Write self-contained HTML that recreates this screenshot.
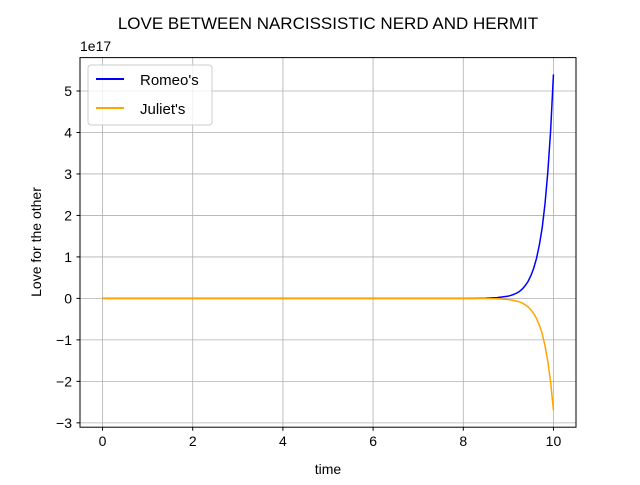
<!DOCTYPE html>
<html><head><meta charset="utf-8"><style>
body{margin:0;background:#fff}
svg text{font-family:"Comic Sans MS","Liberation Sans",sans-serif;fill:#000}
</style></head><body>
<svg id="chart" width="640" height="480" xmlns="http://www.w3.org/2000/svg">
<rect width="640" height="480" fill="#fff"/>
<g id="grid"></g>
<g id="lines"></g>
<rect x="80" y="57.6" width="496" height="369.6" fill="none" stroke="#000" stroke-width="1"/>
<g id="ticks"></g>
<text x="328" y="29" font-size="17" text-anchor="middle">LOVE BETWEEN NARCISSISTIC NERD AND HERMIT</text>
<text x="80" y="51" font-size="14">1e17</text>
<text x="328" y="474" font-size="14" text-anchor="middle">time</text>
<text transform="translate(41,242) rotate(-90)" font-size="14" text-anchor="middle">Love for the other</text>
<g>
<rect x="88" y="65" width="124" height="60" rx="3" fill="#fff" fill-opacity="0.8" stroke="#ccc"/>
<g><line x1="96" y1="79" x2="124" y2="79" stroke="blue" stroke-width="2"/><text x="140" y="85" font-size="15">Romeo's</text></g>
<g><line x1="96" y1="108" x2="124" y2="108" stroke="orange" stroke-width="2"/><text x="140" y="114" font-size="15">Juliet's</text></g>
</g>
</svg>
<script>
const times=[0,2,4,6,7,8,8.25,8.5,8.75,9,9.0625,9.125,9.1875,9.25,9.3125,9.375,9.4375,9.5,9.5625,9.625,9.6875,9.75,9.8125,9.875,9.9375,10];
const romeo=[0,0,0,0,0.0001,0.0006,0.002,0.006,0.018,0.056,0.075,0.1,0.13,0.17,0.23,0.31,0.41,0.55,0.73,0.97,1.29,1.7,2.28,3.05,4.05,5.4];
const juliet=[0,0,0,0,-0.00005,-0.0003,-0.001,-0.003,-0.009,-0.028,-0.0375,-0.05,-0.065,-0.085,-0.115,-0.155,-0.205,-0.275,-0.365,-0.485,-0.645,-0.85,-1.14,-1.52,-2.02,-2.7];
const xTicks=[0,2,4,6,8,10];
const yTicks=[-3,-2,-1,0,1,2,3,4,5];
const yTickLabels=["\u22123","\u22122","\u22121","0","1","2","3","4","5"];
const NS="http://www.w3.org/2000/svg";
const L=80,R=576,T=57.6,B=427.2;
const xmin=-0.5,xmax=10.5,ymin=-3.105,ymax=5.805;
const xs=v=>L+(v-xmin)/(xmax-xmin)*(R-L);
const ys=v=>B-(v-ymin)/(ymax-ymin)*(B-T);
function mk(tag,attrs,parent){const e=document.createElementNS(NS,tag);for(const k in attrs)e.setAttribute(k,attrs[k]);parent.appendChild(e);return e;}
const grid=document.getElementById('grid'),ticks=document.getElementById('ticks'),lines=document.getElementById('lines');
xTicks.forEach(v=>{const x=xs(v);
const g=mk('line',{x1:x,x2:x,y1:T,y2:B,stroke:'#b0b0b0','stroke-width':0.8},grid);


mk('line',{x1:x,x2:x,y1:B,y2:B+3.5,stroke:'#000'},ticks);
const t=mk('text',{x:x,y:B+19,'font-size':14,'text-anchor':'middle'},ticks);t.textContent=v;

});
yTicks.forEach((v,i)=>{const y=ys(v);
const g=mk('line',{x1:L,x2:R,y1:y,y2:y,stroke:'#b0b0b0','stroke-width':0.8},grid);


mk('line',{x1:L-3.5,x2:L,y1:y,y2:y,stroke:'#000'},ticks);
const t=mk('text',{x:L-8,y:y+5,'font-size':14,'text-anchor':'end'},ticks);t.textContent=yTickLabels[i];

});
function path(vals,color,name){let d='';times.forEach((t,i)=>{d+=(i?'L':'M')+xs(t).toFixed(2)+','+ys(vals[i]).toFixed(2);});
const p=mk('path',{d:d,fill:'none',stroke:color,'stroke-width':1.5,'stroke-linejoin':'round'},lines);

}
path(romeo,'blue','romeo-line');
path(juliet,'orange','juliet-line');
</script>
</body></html>
